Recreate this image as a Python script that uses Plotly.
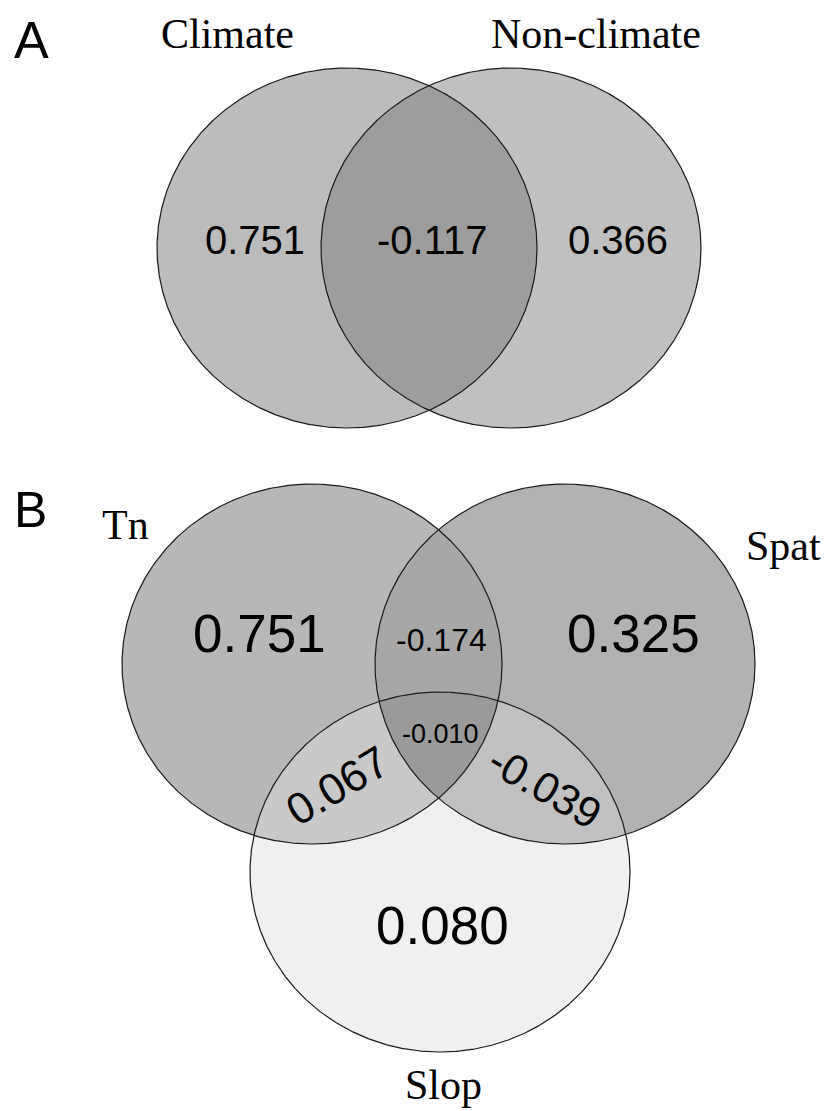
import numpy as np
import plotly.graph_objects as go

# ---------------- data ----------------
panel_labels = ["A", "B"]

# Panel A: two-set partition
setsA = ["Climate", "Non-climate"]
regionsA = ["Climate only", "Shared", "Non-climate only"]
valuesA = [0.751, -0.117, 0.366]

# Panel B: three-set partition
setsB = ["Tn", "Spat", "Slop"]
regionsB = ["Tn only", "Spat only", "Slop only", "Tn&Spat", "Tn&Slop", "Spat&Slop", "Tn&Spat&Slop"]
valuesB = [0.751, 0.325, 0.080, -0.174, 0.067, -0.039, -0.010]

# ---------------- geometry (pixel coordinates) ----------------
W, H = 826, 1111
RX, RY = 190, 180
centersA = [(347, 248), (511, 248)]
centersB = [(312, 664), (565, 664), (440, 872)]

T = np.linspace(0, 2 * np.pi, 1441)


def ell(c):
    return c[0] + RX * np.cos(T), c[1] + RY * np.sin(T)


def inside(x, y, c):
    return ((x - c[0]) / RX) ** 2 + ((y - c[1]) / RY) ** 2 <= 1.0 + 1e-9


def intersection(cs):
    xs, ys = [], []
    for i, c in enumerate(cs):
        x, y = ell(c)
        m = np.ones_like(x, dtype=bool)
        for j, d in enumerate(cs):
            if j != i:
                m &= inside(x, y, d)
        xs.append(x[m])
        ys.append(y[m])
    x = np.concatenate(xs)
    y = np.concatenate(ys)
    cx, cy = x.mean(), y.mean()
    o = np.argsort(np.arctan2(y - cy, x - cx))
    x, y = x[o], y[o]
    return np.append(x, x[0]), np.append(y, y[0])


fig = go.Figure()


def fill(x, y, color):
    fig.add_trace(go.Scatter(x=x, y=y, mode="lines", fill="toself", fillcolor=color,
                             line=dict(width=0, color=color), hoverinfo="skip", showlegend=False))


def outline(c):
    x, y = ell(c)
    fig.add_trace(go.Scatter(x=x, y=y, mode="lines", line=dict(width=1.2, color="#1a1a1a"),
                             hoverinfo="skip", showlegend=False))


# Panel A fills
colA = ["#bcbcbc", "#c0c0c0", "#9d9d9d"]
fill(*ell(centersA[0]), colA[0])
fill(*ell(centersA[1]), colA[1])
fill(*intersection([centersA[0], centersA[1]]), colA[2])
for c in centersA:
    outline(c)

# Panel B fills
Tn, Sp, Sl = centersB
fill(*ell(Tn), "#b7b7b7")
fill(*ell(Sp), "#b2b2b2")
fill(*intersection([Tn, Sp]), "#a7a7a7")
fill(*ell(Sl), "#f0f0f0")
fill(*intersection([Tn, Sl]), "#c9c9c9")
fill(*intersection([Sp, Sl]), "#c1c1c1")
fill(*intersection([Tn, Sp, Sl]), "#9a9a9a")
for c in centersB:
    outline(c)

SANS = "Liberation Sans, Arial, sans-serif"
SERIF = "Liberation Serif, Times New Roman, serif"


def txt(x, y, s, size, family=SANS, angle=0):
    fig.add_annotation(x=x, y=y, xref="x", yref="y", text=s, showarrow=False,
                       textangle=angle, xanchor="center", yanchor="middle",
                       font=dict(family=family, size=size, color="black"))


def fmt(v):
    return f"{v:.3f}"


# Panel labels
txt(31, 40, panel_labels[0], 52)
txt(30, 510, panel_labels[1], 50)

# Panel A text
txt(227, 34, setsA[0], 42, SERIF)
txt(596, 34, setsA[1], 42, SERIF)
posA = [(255, 240), (432, 240), (618, 240)]
for (x, y), v in zip(posA, valuesA):
    txt(x, y, fmt(v), 40)

# Panel B text
txt(125, 525, setsB[0], 42, SERIF)
txt(783, 546, setsB[1], 42, SERIF)
txt(443, 1085, setsB[2], 42, SERIF)
posB = [(259, 633), (633, 633), (442, 925), (441, 640), (337, 785), (545, 787), (440, 734)]
sizeB = [53, 53, 53, 32, 44, 43, 27]
angB = [0, 0, 0, 0, -31, 30, 0]
for (x, y), v, s, a in zip(posB, valuesB, sizeB, angB):
    txt(x, y, fmt(v), s, angle=a)

fig.update_layout(width=W, height=H, margin=dict(l=0, r=0, t=0, b=0),
                  paper_bgcolor="white", plot_bgcolor="white", showlegend=False)
fig.update_xaxes(range=[0, W], visible=False, fixedrange=True)
fig.update_yaxes(range=[H, 0], visible=False, fixedrange=True)
fig.write_html("out.html", config={"displayModeBar": False},
               post_script="document.body.style.margin='0';document.body.style.overflow='hidden';")
